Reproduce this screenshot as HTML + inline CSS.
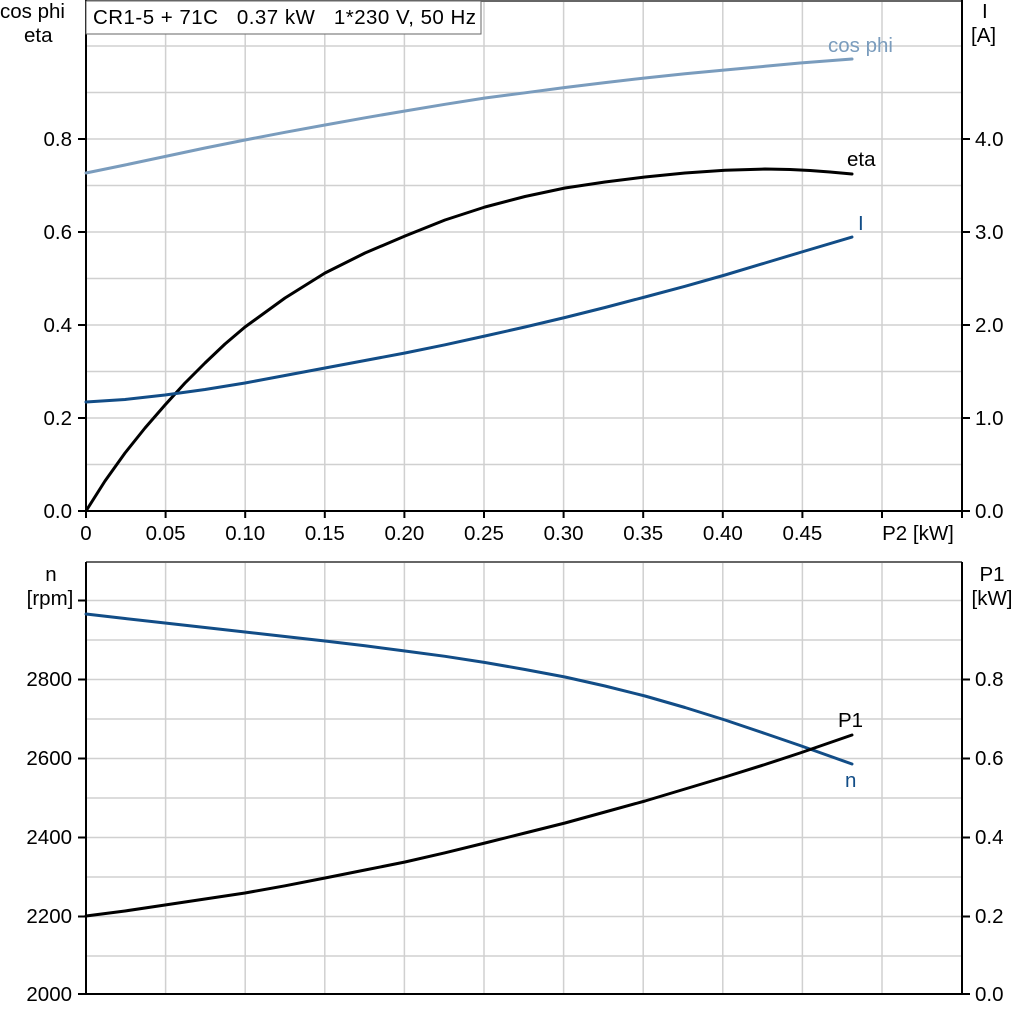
<!DOCTYPE html>
<html><head><meta charset="utf-8"><style>html,body{margin:0;padding:0;background:#fff}svg{display:block}text{font-family:"Liberation Sans",Arial,sans-serif;font-size:20.5px;fill:#000;white-space:pre}</style></head><body>
<svg width="1024" height="1024" viewBox="0 0 1024 1024">
<g stroke="#d0d0d0" stroke-width="1.5" fill="none">
<path d="M165.6 0V511M245.2 0V511M324.8 0V511M404.4 0V511M484 0V511M563.6 0V511M643.2 0V511M722.8 0V511M802.4 0V511M882 0V511"/>
<path d="M86 46H962M86 92.5H962M86 139H962M86 185.5H962M86 232H962M86 278.5H962M86 325H962M86 371.5H962M86 418H962M86 464.5H962"/>
<path d="M165.6 562V994M245.2 562V994M324.8 562V994M404.4 562V994M484 562V994M563.6 562V994M643.2 562V994M722.8 562V994M802.4 562V994M882 562V994"/>
<path d="M86 600.5H962M86 640H962M86 679.5H962M86 719H962M86 758.5H962M86 798H962M86 837.5H962M86 877H962M86 916.5H962M86 956H962"/>
</g>
<g stroke="#666" stroke-width="2"><path d="M86 1H962M86 562H962"/></g>
<g stroke="#000" stroke-width="2" fill="none">
<path d="M86 0V511H962V0"/>
<path d="M962 511V518M86 511V518M165.6 511V518M245.2 511V518M324.8 511V518M404.4 511V518M484 511V518M563.6 511V518M643.2 511V518M722.8 511V518M802.4 511V518M882 511V518"/>
<path d="M78 511H86M78 418H86M78 325H86M78 232H86M78 139H86M962 511H970M962 418H970M962 325H970M962 232H970M962 139H970"/>
<path d="M86 562V994H962V562"/>
<path d="M78 994H86M78 916.5H86M78 837.5H86M78 758.5H86M78 679.5H86M78 600.5H86M962 994H970M962 916.5H970M962 837.5H970M962 758.5H970M962 679.5H970"/>
</g>
<rect x="86" y="1" width="395" height="33" fill="#fff" stroke="#666" stroke-width="1"/>
<text x="93" y="24" textLength="383" lengthAdjust="spacing">CR1-5 + 71C   0.37 kW   1*230 V, 50 Hz</text>
<g fill="none" stroke-width="3" stroke-linejoin="round" stroke-linecap="round">
<polyline stroke="#7a9cbd" points="86,173 125,165 165,156.5 205,148 245,140 285,132.3 325,125 365,117.8 405,111 445,104.3 485,98 525,92.8 565,87.5 605,82.6 645,78 685,73.8 725,70 765,66.3 800,63 852,59"/>
<polyline stroke="#000" points="86,511 105,481 125,453 145,428 165,405 185,383 205,363 225,344 245,327 285,298 325,273 365,253 405,236 445,220 485,207 525,196.5 565,188 605,182 645,177 685,173 725,170.3 765,169 790,169.5 810,170.5 830,172 852,174"/>
<polyline stroke="#124d87" points="86,402 125,399.5 165,395 205,389.5 245,383 285,375.5 325,368 365,360.5 405,353 445,344.8 485,336 525,327 565,317.5 605,307.5 645,297 685,286.3 725,275 765,263 800,252.5 852,237"/>
<polyline stroke="#124d87" points="86,614 125,618.5 165,623 205,627.5 245,632 285,636.5 325,641 365,645.8 405,651 445,656.3 485,662.5 525,669.5 565,677 605,686 645,696 685,707.5 725,720 765,733.5 800,745.5 852,764"/>
<polyline stroke="#000" points="86,916 125,911 165,905 205,899 245,893 285,885.8 325,878 365,870 405,862 445,852.8 485,843 525,833 565,823 605,812 645,801 685,789 725,777 765,764.5 800,753 852,735"/>
</g>
<text x="0" y="18">cos phi</text><text x="24" y="42">eta</text>
<text x="982" y="18">I</text><text x="971" y="42">[A]</text>
<g text-anchor="end"><text x="72" y="146">0.8</text><text x="72" y="239">0.6</text><text x="72" y="332">0.4</text><text x="72" y="425">0.2</text><text x="72" y="518">0.0</text>
<text x="72" y="686">2800</text><text x="72" y="765">2600</text><text x="72" y="844">2400</text><text x="72" y="923">2200</text><text x="72" y="1001">2000</text></g>
<g><text x="975" y="146">4.0</text><text x="975" y="239">3.0</text><text x="975" y="332">2.0</text><text x="975" y="425">1.0</text><text x="975" y="518">0.0</text>
<text x="975" y="686">0.8</text><text x="975" y="765">0.6</text><text x="975" y="844">0.4</text><text x="975" y="923">0.2</text><text x="975" y="1001">0.0</text></g>
<g text-anchor="middle"><text x="86" y="540">0</text><text x="165.6" y="540">0.05</text><text x="245.2" y="540">0.10</text><text x="324.8" y="540">0.15</text><text x="404.4" y="540">0.20</text><text x="484" y="540">0.25</text><text x="563.6" y="540">0.30</text><text x="643.2" y="540">0.35</text><text x="722.8" y="540">0.40</text><text x="802.4" y="540">0.45</text><text x="918" y="540">P2 [kW]</text>
<text x="51" y="581">n</text><text x="50" y="605">[rpm]</text><text x="992" y="581">P1</text><text x="992" y="605">[kW]</text></g>
<text x="828" y="52" style="fill:#7a9cbd">cos phi</text>
<text x="847" y="166">eta</text>
<text x="858" y="230" style="fill:#124d87">I</text>
<text x="838" y="727">P1</text>
<text x="845" y="787" style="fill:#124d87">n</text>
</svg>
</body></html>
